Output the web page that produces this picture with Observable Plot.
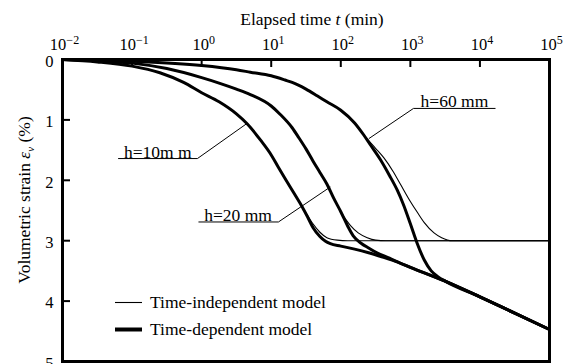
<!DOCTYPE html>
<html><head><meta charset="utf-8">
<script src="https://cdn.jsdelivr.net/npm/d3@7"></script>
<script src="https://cdn.jsdelivr.net/npm/@observablehq/plot@0.6"></script>
<style>
body{margin:0;background:#fff;}
#wrap{position:relative;width:563px;height:364px;}
</style></head><body><div id="wrap"></div>
<script>
const xTicks = [0.01, 0.1, 1, 10, 100, 1000, 10000, 100000];
const yTicks = [0, 1, 2, 3, 4, 5];

// h = 10 mm
const t10Dep = [0.01, 0.0316, 0.1, 0.251, 0.55, 1, 1.78, 3.16, 4.47, 7.08, 10, 12.6, 15.8, 21.4, 28.2, 33.1, 39.8, 50.1, 60.3, 70.8, 100, 158, 251, 398, 646, 1000, 3162, 10000, 31623, 100000];
const e10Dep = [0, 0.04, 0.11, 0.22, 0.38, 0.55, 0.7, 0.9, 1.06, 1.34, 1.58, 1.78, 1.97, 2.22, 2.45, 2.6, 2.78, 2.93, 3.01, 3.05, 3.09, 3.14, 3.2, 3.27, 3.35, 3.44, 3.67, 3.93, 4.2, 4.47];
const t10Ind = [0.01, 0.0316, 0.1, 0.251, 0.55, 1, 1.78, 3.16, 4.47, 7.08, 10, 12.6, 15.8, 21.4, 28.2, 33.1, 39.8, 50.1, 63.1, 89.1, 126, 100000];
const e10Ind = [0, 0.04, 0.11, 0.22, 0.38, 0.55, 0.7, 0.9, 1.06, 1.34, 1.58, 1.78, 1.97, 2.22, 2.45, 2.58, 2.72, 2.86, 2.95, 2.99, 3.0, 3.0];

// h = 20 mm
const t20Dep = [0.01, 0.0316, 0.1, 0.316, 1, 1.78, 3.16, 5.01, 10, 13.5, 20, 25.1, 31.6, 39.8, 50.1, 63.1, 79.4, 100, 126, 151, 200, 251, 331, 501, 708, 1000, 3162, 10000, 31623, 100000];
const e20Dep = [0, 0.02, 0.06, 0.15, 0.3, 0.39, 0.49, 0.58, 0.77, 0.91, 1.13, 1.3, 1.48, 1.68, 1.87, 2.06, 2.3, 2.52, 2.76, 2.92, 3.05, 3.12, 3.2, 3.29, 3.37, 3.44, 3.67, 3.93, 4.2, 4.47];
const t20Ind = [0.01, 0.0316, 0.1, 0.316, 1, 1.78, 3.16, 5.01, 10, 13.5, 20, 25.1, 31.6, 39.8, 50.1, 63.1, 79.4, 100, 120, 138, 178, 240, 316, 447, 100000];
const e20Ind = [0, 0.02, 0.06, 0.15, 0.3, 0.39, 0.49, 0.58, 0.77, 0.91, 1.13, 1.3, 1.48, 1.68, 1.87, 2.06, 2.3, 2.52, 2.66, 2.75, 2.87, 2.95, 2.99, 3.0, 3.0];

// h = 60 mm
const t60Dep = [0.01, 0.1, 1, 3.16, 5.01, 10, 15.8, 20, 31.6, 45.7, 63.1, 100, 158, 214, 269, 372, 501, 646, 794, 1000, 1259, 1585, 1995, 2512, 3162, 10000, 31623, 100000];
const e60Dep = [0, 0.03, 0.1, 0.17, 0.21, 0.27, 0.34, 0.38, 0.49, 0.6, 0.7, 0.84, 1.05, 1.25, 1.42, 1.66, 1.92, 2.16, 2.4, 2.72, 3.05, 3.32, 3.5, 3.6, 3.67, 3.93, 4.2, 4.47];
const t60Ind = [0.01, 0.1, 1, 3.16, 5.01, 10, 15.8, 20, 31.6, 45.7, 63.1, 100, 158, 214, 316, 417, 562, 724, 1000, 1259, 1585, 2188, 2818, 3981, 100000];
const e60Ind = [0, 0.03, 0.1, 0.17, 0.21, 0.27, 0.34, 0.38, 0.49, 0.6, 0.7, 0.84, 1.05, 1.25, 1.47, 1.63, 1.85, 2.07, 2.35, 2.53, 2.7, 2.87, 2.95, 3.0, 3.0];

// annotations
const annText = ["h=10m m", "h=20 mm", "h=60 mm"];
const annCurveT = [4.47, 70.8, 253];
const annCurveE = [1.06, 2.11, 1.31];
const annLineT1 = [0.063, 0.90, 1109];
const annLineT2 = [0.87, 12.7, 16750];
const annJoinT = [0.87, 12.7, 1109];
const annLineE = [1.64, 2.69, 0.81];
const annTextT = [0.234, 3.33, 4305];

const legendLabels = ["Time-independent model", "Time-dependent model"];

const rows = [];
function add(h, model, ts, es) { ts.forEach((t, i) => rows.push({h, model, t, e: es[i]})); }
add("10", "dep", t10Dep, e10Dep);
add("10", "ind", t10Ind, e10Ind);
add("20", "dep", t20Dep, e20Dep);
add("20", "ind", t20Ind, e20Ind);
add("60", "dep", t60Dep, e60Dep);
add("60", "ind", t60Ind, e60Ind);

const ann = annText.map((s, i) => ({label: s, ct: annCurveT[i], ce: annCurveE[i], t1: annLineT1[i], t2: annLineT2[i], jt: annJoinT[i], le: annLineE[i], tt: annTextT[i]}));

const FONT = '"Liberation Serif","Times New Roman",serif';

const plot = Plot.plot({
  width: 563, height: 364,
  marginTop: 59, marginLeft: 62, marginRight: 14, marginBottom: 3,
  style: {fontFamily: FONT, fontSize: "16px", color: "#000", background: "#fff", overflow: "visible"},
  x: {type: "log", domain: [0.01, 100000]},
  y: {domain: [0, 5], reverse: true},
  marks: [
    Plot.line(rows.filter(d => d.model === "ind"), {x: "t", y: "e", z: "h", stroke: "#000", strokeWidth: 1.1, curve: "monotone-x"}),
    Plot.line(rows.filter(d => d.model === "dep"), {x: "t", y: "e", z: "h", stroke: "#000", strokeWidth: 3, curve: "monotone-x"}),
    Plot.link(ann, {x1: "t1", x2: "t2", y1: "le", y2: "le", stroke: "#000", strokeWidth: 1}),
    Plot.link(ann, {x1: "jt", y1: "le", x2: "ct", y2: "ce", stroke: "#000", strokeWidth: 1}),
    Plot.text(ann, {x: "tt", y: "le", text: "label", lineAnchor: "bottom", dy: -1, fontSize: 17.5, fontFamily: FONT}),
    Plot.axisX({anchor: "top", ticks: xTicks, tickSize: 0, tickPadding: 10, dx: 2, fontSize: 16.5, fontFamily: FONT, tickFormat: d => "10^" + Math.round(Math.log10(d)), label: null}),
    Plot.axisX({anchor: "top", ticks: xTicks.slice(1, -1), tickSize: 7, dy: 7, strokeWidth: 2, tickFormat: () => "", label: null}),
    Plot.axisY({anchor: "left", ticks: yTicks, tickSize: 0, tickPadding: 9, dy: 2, fontSize: 16.5, fontFamily: FONT, tickFormat: d => String(d), label: null}),
    Plot.axisY({anchor: "left", ticks: yTicks.slice(1, -1), tickSize: 8, dx: 8, strokeWidth: 2, tickFormat: () => "", label: null}),
    Plot.frame({stroke: "#000", strokeWidth: 3})
  ]
});

document.getElementById("wrap").appendChild(plot);
const svg = d3.select(plot);

// superscript exponents on x tick labels
svg.selectAll('g[aria-label="x-axis tick label"] text').each(function() {
  const s = this.textContent;
  if (!s.includes("^")) return;
  const exp = s.split("^")[1].replace("-", "\u2212");
  const el = d3.select(this);
  el.text(null);
  el.append("tspan").text("10");
  el.append("tspan").attr("dy", "-0.45em").attr("font-size", "12px").text(exp);
});

// axis titles
const title = svg.append("text").attr("x", 312).attr("y", 25).attr("text-anchor", "middle")
  .attr("font-size", "17.5px").attr("fill", "#000").style("font-family", FONT);
title.append("tspan").text("Elapsed time ");
title.append("tspan").attr("font-style", "italic").text("t");
title.append("tspan").text(" (min)");

const ytitle = svg.append("text").attr("transform", "translate(30,200) rotate(-90)").attr("text-anchor", "middle")
  .attr("font-size", "17.5px").attr("fill", "#000").style("font-family", FONT);
ytitle.append("tspan").text("Volumetric strain ");
ytitle.append("tspan").attr("font-style", "italic").text("\u03b5");
ytitle.append("tspan").attr("font-style", "italic").attr("font-size", "11px").attr("dy", "4").text("v");
ytitle.append("tspan").attr("dy", "-4").text(" (%)");

// legend
const lg = svg.append("g").style("font-family", FONT).attr("font-size", "17.5px").attr("text-anchor", "start");
legendLabels.forEach((s, i) => {
  const y = 302.5 + i * 27;
  lg.append("line").attr("x1", 115).attr("x2", 142).attr("y1", y).attr("y2", y)
    .attr("stroke", "#000").attr("stroke-width", i ? 4 : 1.1);
  lg.append("text").attr("x", 150).attr("y", y + 5.5).attr("fill", "#000").attr("text-anchor", "start").text(s);
});
</script>
</body></html>
